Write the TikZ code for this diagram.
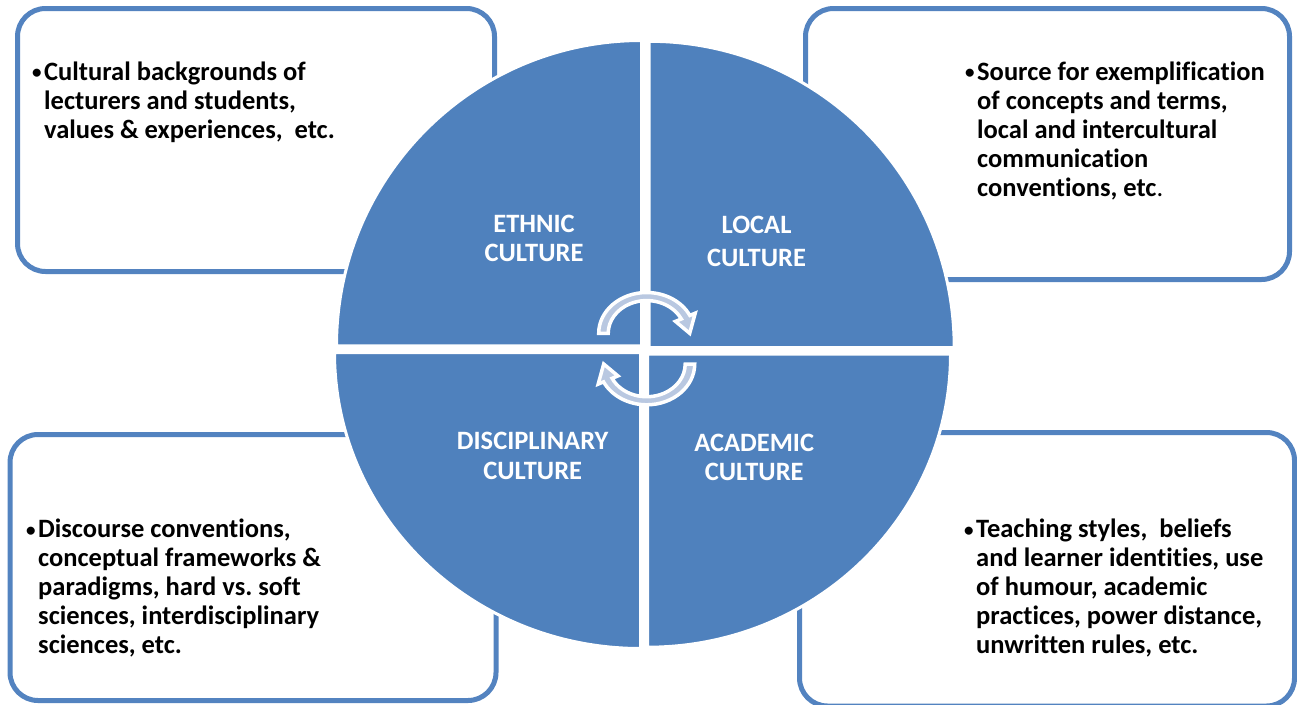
\documentclass[tikz,border=0pt]{standalone}
\usepackage{fontspec}
\setmainfont{Carlito}[Ligatures={NoCommon,NoRare,NoDiscretionary}]
\frenchspacing
\definecolor{qblue}{HTML}{4F81BD}
\definecolor{bblue}{HTML}{5383C0}
\definecolor{alight}{HTML}{B9C8E1}
\newcommand{\bul}{\makebox[12pt][l]{\raisebox{1.5pt}{\fontsize{19}{19}\selectfont •}}}
\begin{document}
\begin{tikzpicture}[x=1pt,y=-1pt,
  box/.style={draw=bblue, line width=5pt, rounded corners=28pt, fill=white, rectangle, inner sep=0pt},
  quad/.style={fill=qblue, draw=white, line width=3pt},
  circarrow/.style={fill=alight, draw=white, line width=3.5pt, line join=miter},
  boxtext/.style={inner sep=0pt, anchor=base west, font=\fontsize{26.5}{29}\selectfont\bfseries, text=black},
  qlabel/.style={inner sep=0pt, anchor=base, font=\fontsize{26.5}{29}\selectfont\bfseries, text=white}]
\useasboundingbox (0,0) rectangle (1297,704);
% boxes
\node[box, minimum width=477pt, minimum height=263pt] (boxTL) at (256,140) {};
\node[box, minimum width=484pt, minimum height=271pt] (boxTR) at (1047.5,144) {};
\node[box, minimum width=486pt, minimum height=266pt] (boxBL) at (253,567.5) {};
\node[box, minimum width=495pt, minimum height=273.5pt] (boxBR) at (1047,569.25) {};
% quadrants
\path[quad] (641.5,345.8) -- (336.5,345.8) arc[start angle=180, end angle=270, x radius=305, y radius=305.3] -- cycle;
\path[quad] (649.2,347.5) -- (649.2,41.3) arc[start angle=270, end angle=360, x radius=305, y radius=306.2] -- cycle;
\path[quad] (640.5,352.5) -- (334.5,352.5) arc[start angle=180, end angle=90, x radius=306, y radius=296] -- cycle;
\path[quad] (647.5,354.2) -- (950.5,354.2) arc[start angle=0, end angle=90, x radius=303, y radius=293] -- cycle;
% circular arrows
\begin{scope}[shift={(646.7,333.3)}, yscale=0.85]
\path[circarrow] (180:48) arc[start angle=180, end angle=334, radius=48] -- (334:54) -- (0:43) -- (334:32) -- (334:38.5) arc[start angle=334, end angle=180, radius=38.5] -- cycle;
\end{scope}
\begin{scope}[shift={(646.7,364)}, yscale=0.85, rotate=180]
\path[circarrow] (180:48) arc[start angle=180, end angle=334, radius=48] -- (334:54) -- (0:43) -- (334:32) -- (334:38.5) arc[start angle=334, end angle=180, radius=38.5] -- cycle;
\end{scope}
% quadrant labels
\node[qlabel] (lEth) at (534,232.5) {\begin{tabular}[t]{@{}c@{}}ETHNIC\\CULTURE\end{tabular}};
\node[qlabel] (lLoc) at (756.5,233.5) {\begin{tabular}[t]{@{}c@{}}LOCAL\\[3.5pt]CULTURE\end{tabular}};
\node[qlabel] (lDis) at (532.7,449) {\begin{tabular}[t]{@{}c@{}}DISCIPLINARY\\[1pt]CULTURE\end{tabular}};
\node[qlabel] (lAca) at (754.2,451) {\begin{tabular}[t]{@{}c@{}}ACADEMIC\\CULTURE\end{tabular}};
% box texts
\node[boxtext] (tTL) at (32,80) {\begin{tabular}[t]{@{}l@{}l@{}}\bul&Cultural backgrounds of\\&lecturers and students,\\&values \& experiences,\ \ etc.\end{tabular}};
\node[boxtext] (tTR) at (965,80) {\begin{tabular}[t]{@{}l@{}l@{}}\bul&Source for exemplification\\&of concepts and terms,\\&local and intercultural\\&communication\\&conventions, etc\textmd{.}\end{tabular}};
\node[boxtext] (tBL) at (26,537.5) {\begin{tabular}[t]{@{}l@{}l@{}}\bul&Discourse conventions,\\&conceptual frameworks \&\\&paradigms, hard vs. soft\\&sciences, interdisciplinary\\&sciences, etc.\end{tabular}};
\node[boxtext] (tBR) at (964,537.5) {\begin{tabular}[t]{@{}l@{}l@{}}\bul&Teaching styles,\ \ beliefs\\&and learner identities, use\\&of humour, academic\\&practices, power distance,\\&unwritten rules, etc.\end{tabular}};
\end{tikzpicture}
\end{document}
